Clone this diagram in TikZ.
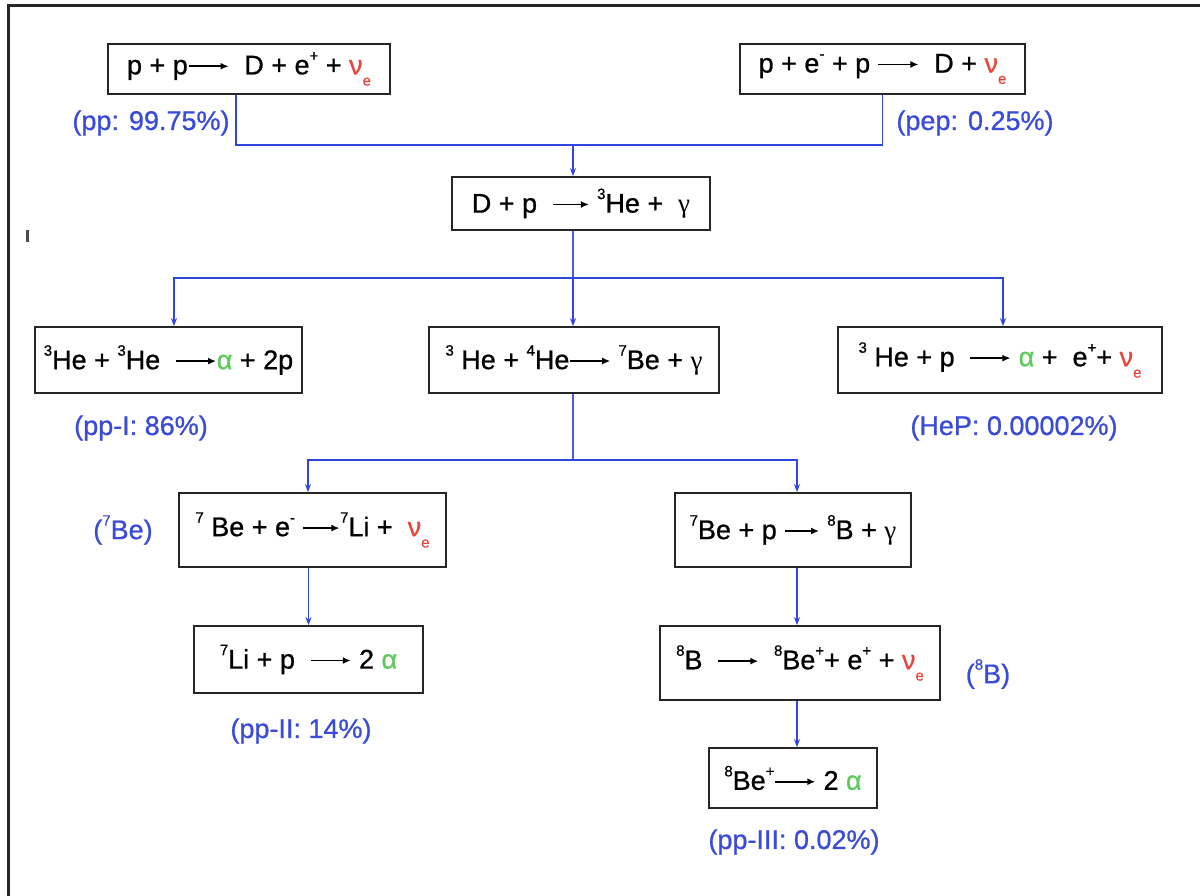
\documentclass[tikz,border=0pt]{standalone}
\usepackage{fontspec}
\setmainfont{Liberation Sans}[FakeBold=0.8]
\newfontfamily\serifg{Liberation Serif}
\usetikzlibrary{arrows.meta,calc}
\definecolor{lblue}{HTML}{3A4BD8}
\definecolor{cblue}{HTML}{2F45E0}
\definecolor{tblue}{HTML}{4A5CF0}
\definecolor{nred}{HTML}{E8453C}
\definecolor{agreen}{HTML}{5CCB5C}
\newcommand{\SupT}[1]{\raisebox{0.5em}{\fontsize{15}{15}\selectfont #1}}
\newcommand{\SubT}[1]{\raisebox{-0.42em}{\fontsize{15}{15}\selectfont #1}}
\newcommand{\nue}{\textcolor{nred}{ν\SubT{e}}}
\newcommand{\alf}{\textcolor{agreen}{α}}
\newcommand{\gam}{{\serifg γ}}
\newcommand{\rxn}[1]{\tikz[baseline=-0.3em]\draw[line width=1.5pt,-{Latex[length=8pt,width=7pt]}] (0pt,0pt)--(#1pt,0pt);}
\begin{document}
\begin{tikzpicture}[x=1pt,y=-1pt,
  box/.style={draw=black!85,line width=1.8pt,inner sep=0pt,font=\fontsize{27}{30}\selectfont},
  lbl/.style={text=lblue,font=\fontsize{27}{30}\selectfont,inner sep=0pt},
  conn/.style={cblue,line width=1.4pt},
  thinline/.style={tblue,line width=1.1pt},
  arr/.style={conn,-{Stealth[length=8pt,width=6pt]}}]
\useasboundingbox (0,0) rectangle (1200,895);
\draw[line width=3pt,black!85] (8,900) -- (8,5) -- (1205,5);
\draw[line width=3pt,black!70] (27,230) -- (27,242);
% boxes
\node[box,minimum width=282pt,minimum height=50pt] (pp) at (249,69) {p + p\rxn{40}\ \ D + e\SupT{+} + \nue};
\node[box,minimum width=285pt,minimum height=50pt] (pep) at (882.5,69) {p + e\SupT{-} + p \rxn{40}\ \ D + \nue};
\node[box,minimum width=258pt,minimum height=53pt] (dp) at (581,203.5) {D + p \ \rxn{36}\ \SupT{3}He + \ \gam};
\node[box,minimum width=267pt,minimum height=66pt] (A) at (168.5,360) {\SupT{3}He + \SupT{3}He \ \rxn{40}\alf\ + 2p};
\node[box,minimum width=290pt,minimum height=66pt] (B) at (574,360) {\SupT{3} He + \SupT{4}He\rxn{40}\ \SupT{7}Be + \gam};
\node[box,minimum width=324pt,minimum height=66pt] (C) at (1000,360) {\SupT{3} He + p \ \rxn{40}\ \alf\ + \ e\SupT{+}+ \nue};
\node[box,minimum width=267pt,minimum height=74pt] (Be7e) at (312.5,530) {\SupT{7} Be + e\SupT{-} \rxn{36}\SupT{7}Li + \ \nue};
\node[box,minimum width=236pt,minimum height=74pt] (Be7p) at (793,530) {\SupT{7}Be + p \rxn{34}\ \SupT{8}B + \gam};
\node[box,minimum width=229pt,minimum height=67pt] (Li7p) at (308.5,659.5) {\SupT{7}Li + p \ \rxn{40}\ 2 \alf};
\node[box,minimum width=280pt,minimum height=74pt] (B8) at (800,663) {\SupT{8}B \ \rxn{40}\ \ \SupT{8}Be\SupT{+}+ e\SupT{+} + \nue};
\node[box,minimum width=168pt,minimum height=60pt] (Be8) at (793,778) {\SupT{8}Be\SupT{+}\rxn{40}\ 2 \alf};
% labels
\node[lbl] (lpp) at (151,123) {(pp: 99.75\%)};
\node[lbl] (lpep) at (975,123) {(pep: 0.25\%)};
\node[lbl] (lpp1) at (141,428) {(pp-I: 86\%)};
\node[lbl] (lhep) at (1014,428) {(HeP: 0.00002\%)};
\node[lbl] (lbe) at (123,530) {(\SupT{7}Be)};
\node[lbl] (lpp2) at (301,731) {(pp-II: 14\%)};
\node[lbl] (lb8) at (988,674) {(\SupT{8}B)};
\node[lbl] (lpp3) at (794,842) {(pp-III: 0.02\%)};
% connectors
\coordinate (j1) at (573,145);
\coordinate (j2) at (573,278);
\coordinate (j3) at (573,460);
\draw[conn] ([xshift=-13pt]pp.south) |- (j1) -| (pep.south);
\draw[arr] (j1) -- (dp.north -| j1);
\draw[thinline] (dp.south -| j2) -- (j2);
\draw[arr] (j2) -| ([xshift=5.5pt]A.north);
\draw[arr] (j2) -- (B.north -| j2);
\draw[arr] (j2) -| ([xshift=3pt]C.north);
\draw[thinline] (B.south -| j3) -- (j3);
\draw[arr] (j3) -| ([xshift=-4.5pt]Be7e.north);
\draw[arr] (j3) -| ([xshift=4pt]Be7p.north);
\draw[arr] (Be7e.south -| Li7p.north) -- (Li7p.north);
\draw[arr] ([xshift=4pt]Be7p.south) -- ([xshift=4pt]Be7p.south |- B8.north);
\draw[arr] ([xshift=-3pt]B8.south) -- ([xshift=-3pt]B8.south |- Be8.north);
\end{tikzpicture}
\end{document}
